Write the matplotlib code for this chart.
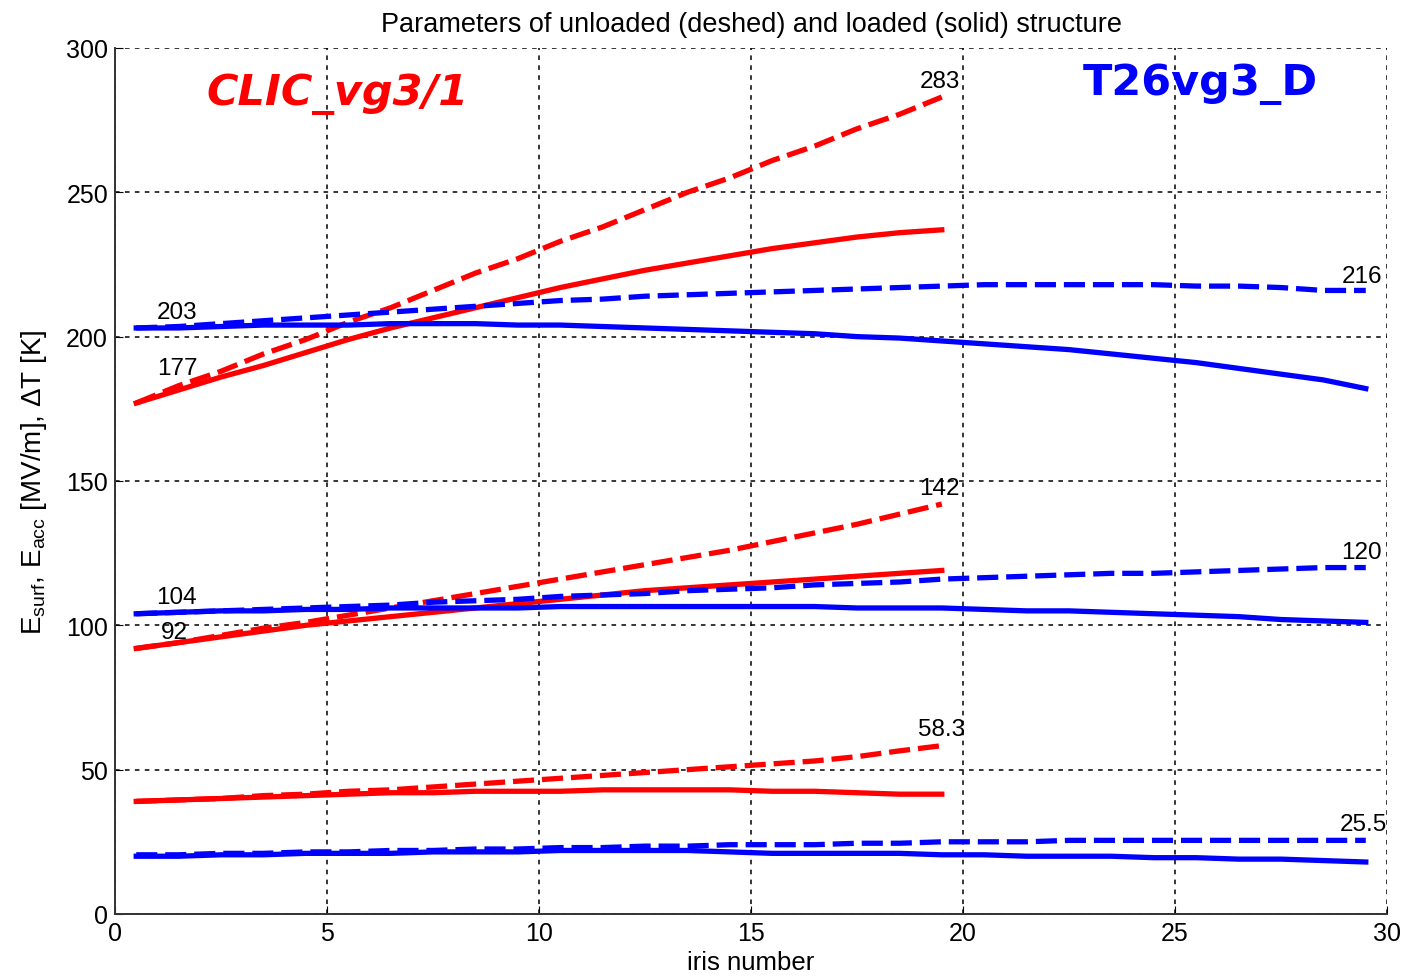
import numpy as np
import matplotlib.pyplot as plt

plt.rcParams['font.family'] = ['Liberation Sans', 'DejaVu Sans']
plt.rcParams['mathtext.fontset'] = 'custom'
plt.rcParams['mathtext.rm'] = 'Liberation Sans'

# iris positions
iris_clic = np.arange(20) + 0.5
iris_t26 = np.arange(30) + 0.5

# CLIC_vg3/1 (red)
clic_esurf_unl = [177, 183, 188, 194, 199, 205, 210, 216, 222, 227,
                  233, 238, 244, 250, 255, 261, 266, 272, 277, 283]
clic_esurf_ld = [177, 181.5, 186, 190, 194.5, 199, 203, 206.5, 210, 213.5,
                 217, 220, 223, 225.5, 228, 230.5, 232.5, 234.5, 236, 237]
clic_eacc_unl = [92, 94, 96.5, 99, 101, 103.5, 106, 108.5, 111, 113.5,
                 116, 118.5, 121, 123.5, 126, 129, 132, 135, 138.5, 142]
clic_eacc_ld = [92, 94, 96, 98, 100, 101.5, 103, 104.5, 106, 107.5,
                109, 110.5, 112, 113, 114, 115, 116, 117, 118, 119]
clic_dt_unl = [39, 39.5, 40, 41, 41.5, 42.5, 43, 44, 45, 46,
               47, 48, 49, 50, 51, 52, 53, 54.5, 56.5, 58.3]
clic_dt_ld = [39, 39.5, 40, 40.5, 41, 41.5, 42, 42, 42.5, 42.5,
              42.5, 43, 43, 43, 43, 42.5, 42.5, 42, 41.5, 41.5]

# T26vg3_D (blue)
t26_esurf_unl = [203, 203.5, 204.5, 205.5, 206.5, 207.5, 208.5, 209.5, 210.5, 211.5,
                 212.5, 213, 214, 214.5, 215, 215.5, 216, 216.5, 217, 217.5,
                 218, 218, 218, 218, 218, 217.5, 217.5, 217, 216, 216]
t26_esurf_ld = [203, 203, 203.5, 204, 204, 204, 204.5, 204.5, 204.5, 204,
                204, 203.5, 203, 202.5, 202, 201.5, 201, 200, 199.5, 198.5,
                197.5, 196.5, 195.5, 194, 192.5, 191, 189, 187, 185, 182]
t26_eacc_unl = [104, 104.5, 105, 105.5, 106, 106.5, 107, 108, 108.5, 109,
                110, 110.5, 111, 112, 112.5, 113, 114, 114.5, 115, 116,
                116.5, 117, 117.5, 118, 118, 118.5, 119, 119.5, 120, 120]
t26_eacc_ld = [104, 104.5, 105, 105, 105.5, 105.5, 106, 106, 106, 106,
               106.5, 106.5, 106.5, 106.5, 106.5, 106.5, 106.5, 106, 106, 106,
               105.5, 105, 105, 104.5, 104, 103.5, 103, 102, 101.5, 101]
t26_dt_unl = [20.5, 20.5, 21, 21, 21.5, 21.5, 22, 22, 22.5, 22.5,
              23, 23, 23.5, 23.5, 24, 24, 24, 24.5, 24.5, 25,
              25, 25, 25.5, 25.5, 25.5, 25.5, 25.5, 25.5, 25.5, 25.5]
t26_dt_ld = [20, 20, 20.5, 20.5, 21, 21, 21, 21.5, 21.5, 21.5,
             22, 22, 22, 22, 21.5, 21, 21, 21, 21, 20.5,
             20.5, 20, 20, 20, 19.5, 19.5, 19, 19, 18.5, 18]

# value labels: (text, x, y)
labels = [("283", 19.45, 288.5), ("216", 29.4, 221), ("203", 1.46, 208.5),
          ("177", 1.46, 189), ("142", 19.45, 147.5), ("120", 29.4, 125.4),
          ("104", 1.46, 109.8), ("92", 1.4, 97.7), ("58.3", 19.5, 64),
          ("25.5", 29.45, 31)]

fig = plt.figure(figsize=(14.01, 9.79), dpi=100)
ax = fig.add_axes([0.0821, 0.0654, 0.9079, 0.8846])

lw = 3.8
dash = (0, (4, 1.5))
for y in [clic_esurf_unl, clic_eacc_unl, clic_dt_unl]:
    ax.plot(iris_clic, y, color='#ff0000', lw=lw, linestyle=dash)
for y in [clic_esurf_ld, clic_eacc_ld, clic_dt_ld]:
    ax.plot(iris_clic, y, color='#ff0000', lw=lw)
for y in [t26_esurf_unl, t26_eacc_unl, t26_dt_unl]:
    ax.plot(iris_t26, y, color='#0000ff', lw=lw, linestyle=dash)
for y in [t26_esurf_ld, t26_eacc_ld, t26_dt_ld]:
    ax.plot(iris_t26, y, color='#0000ff', lw=lw)

for txt, x, y in labels:
    ax.text(x, y, txt, fontsize=17.5, ha='center', va='center', color='black')

ax.text(5.24, 284.5, "CLIC_vg3/1", color='#ff0000', fontsize=31, fontweight='bold',
        fontstyle='italic', ha='center', va='center', family='DejaVu Sans')
ax.text(25.6, 288, "T26vg3_D", color='#0000ff', fontsize=31, fontweight='bold',
        ha='center', va='center', family='DejaVu Sans')

ax.set_xlim(0, 30)
ax.set_ylim(0, 300)
ax.set_xticks(range(0, 31, 5))
ax.set_yticks(range(0, 301, 50))
ax.grid(True, color='black', linestyle=(0, (3, 3.5)), linewidth=1.1)
ax.spines['top'].set_visible(False)
ax.spines['right'].set_visible(False)
ax.spines['left'].set_linewidth(1.4)
ax.spines['bottom'].set_linewidth(1.4)
ax.spines['left'].set_color('#333333')
ax.spines['bottom'].set_color('#333333')
ax.tick_params(direction='in', length=6, labelsize=18, pad=5)

ax.set_title("Parameters of unloaded (deshed) and loaded (solid) structure",
             fontsize=19.5, pad=12)
ax.set_xlabel("iris number", fontsize=18.5, labelpad=4)
ax.set_ylabel(r"E$_{\mathrm{surf}}$, E$_{\mathrm{acc}}$ [MV/m], $\Delta$T [K]",
              fontsize=20, labelpad=12)

fig.savefig("out.png", dpi=100)
